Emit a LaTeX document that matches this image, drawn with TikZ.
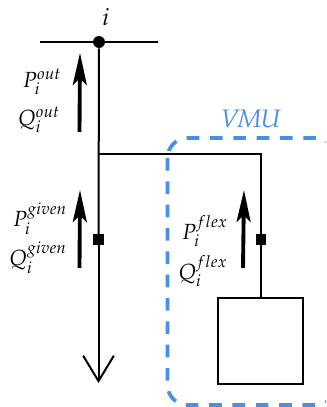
\documentclass[tikz,border=0pt]{standalone}
\usepackage{mathpazo}
\usetikzlibrary{arrows.meta}
\tikzset{
  x=0.75pt,y=-0.75pt,
  wire/.style={draw=black,line width=1.5pt},
  flow/.style={draw=black,line width=2.9pt,-{Stealth[length=24pt,width=10.5pt,inset=5pt]}},
  sq/.style={fill=black,minimum size=8pt,inner sep=0pt},
  lab/.style={inner sep=0pt,scale=1.37,font=\large},
  vmucol/.style={color={rgb,255:red,74;green,144;blue,226}},
}
\begin{document}
\begin{tikzpicture}
\useasboundingbox (0,0) rectangle (326,407);
\clip (0,0) rectangle (326,407);
\coordinate (busL) at (40,42);
\coordinate (busR) at (158,42);
\node[circle,fill=black,minimum size=9pt,inner sep=0pt] (dot) at (99,42) {};
\node[sq] (s1) at (98.5,239.5) {};
\node[sq] (s2) at (261,239.5) {};
\coordinate (load) at (98.5,383);
\coordinate (junc) at (99,154);
\coordinate (corner) at (261,154);
\node[draw=black,line width=1.5pt,minimum size=0pt,inner sep=0pt,minimum width=63.5pt,minimum height=64pt] (box) at (260.5,341) {};
\draw[wire] (busL) -- (busR);
\draw[wire] (dot) -- (s1);
\draw[wire,-{Straight Barb[length=19pt,width=23pt,line width=1.5pt]}] (s1) -- (load);
\draw[wire] (junc) -- (corner) -- (s2);
\draw[wire] (s2) -- (box.north -| s2);
\node[inner sep=0pt,scale=1.5,font=\large] (ni) at (106,17) {$i$};
\node[lab] (p1) at (42,82) {$P_i^{out}$};
\node[lab] (q1) at (39,120) {$Q_i^{out}$};
\node[lab] (p2) at (40,219) {$P_i^{given}$};
\node[lab] (q2) at (38,258) {$Q_i^{given}$};
\node[lab] (p3) at (205,231) {$P_i^{flex}$};
\node[lab] (q3) at (203,271) {$Q_i^{flex}$};
\coordinate (a1s) at (79.5,132); \coordinate (a1e) at (80,53);
\coordinate (a2s) at (79.5,268); \coordinate (a2e) at (80,190);
\coordinate (a3s) at (243,268); \coordinate (a3e) at (244,190);
\draw[flow] (a1s) -- (a1e);
\draw[flow] (a2s) -- (a2e);
\draw[flow] (a3s) -- (a3e);
\draw[vmucol,line width=2.8pt,dash pattern=on 9.5pt off 8pt,rounded corners=15pt] (167.5,138) rectangle (336,405);
\node[vmucol,inner sep=0pt,scale=1.32,font=\Large] (vmu) at (251,119) {$V\mkern-3mu M\mkern-1mu U$};
\end{tikzpicture}
\end{document}
